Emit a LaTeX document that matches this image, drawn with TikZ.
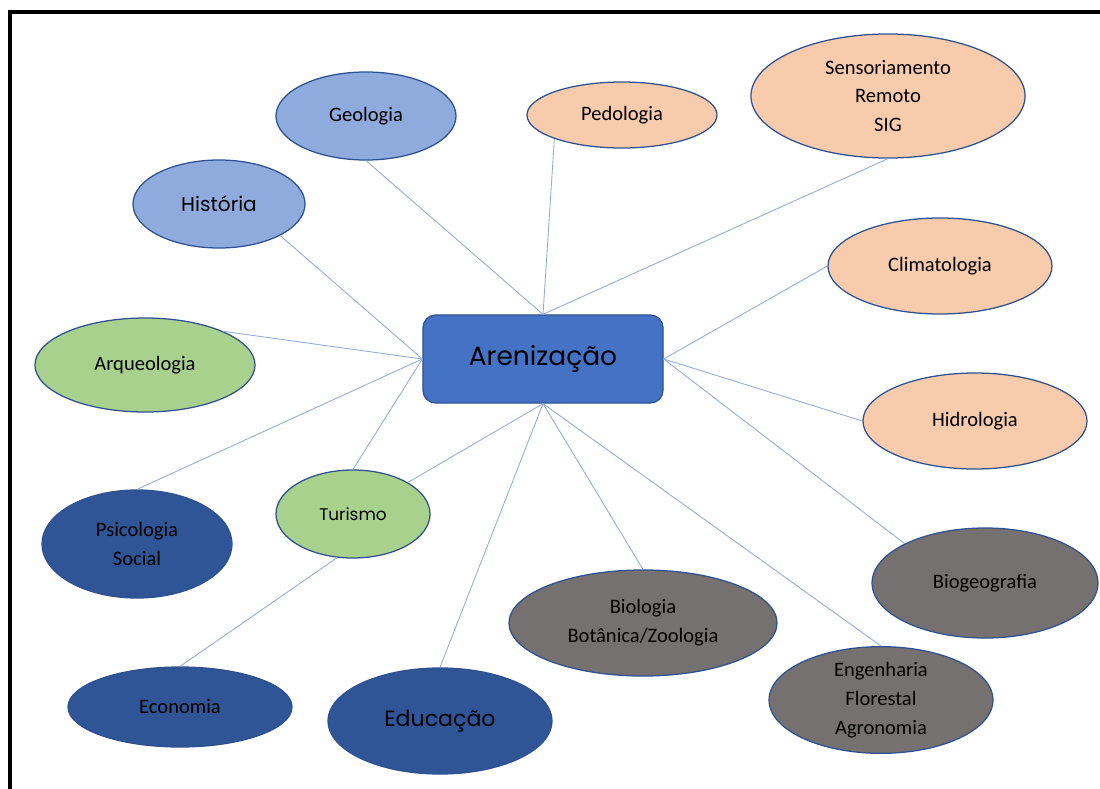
\documentclass[tikz,border=0pt]{standalone}
\usepackage{fontspec}
\setmainfont{Carlito}
\newfontfamily\gothic{Poppins}
\usetikzlibrary{shapes.geometric}

\definecolor{lblue}{HTML}{8FAADC}
\definecolor{peach}{HTML}{F8CBAD}
\definecolor{lgreen}{HTML}{A9D18E}
\definecolor{dblue}{HTML}{2F5597}
\definecolor{dgray}{HTML}{767171}
\definecolor{mblue}{HTML}{4472C4}
\definecolor{edge}{HTML}{2F528F}

\begin{document}
\begin{tikzpicture}[x=0.025cm,y=-0.025cm,
	every node/.style={font=\fontsize{14.6}{20.5}\selectfont, align=center},
	bubble/.style={ellipse, draw=edge, line width=0.9pt, inner sep=0pt},
	link/.style={lblue, line width=0.6pt}]
	\useasboundingbox (0,0) rectangle (1100,789);
	\draw[line width=2.2pt] (1100,12) -- (10,12) -- (10,789);

	\node[draw=edge, fill=mblue, line width=0.9pt, rounded corners=9pt,
		minimum width=6cm, minimum height=2.2cm] (box) at (543,359)
		{\gothic\fontsize{18.8}{22}\selectfont Arenização};

	\node[bubble, fill=lblue, minimum width=4.5cm, minimum height=2.2cm] (geo) at (366,116) {Geologia};
	\node[bubble, fill=lblue, minimum width=4.3cm, minimum height=2.2cm] (hist) at (219,204) {\gothic\fontsize{14.3}{18}\selectfont História};
	\node[bubble, fill=peach, minimum width=4.75cm, minimum height=1.65cm] (ped) at (622,115) {Pedologia};
	\node[bubble, fill=peach, minimum width=6.85cm, minimum height=3.1cm] (sens) at (888,96) {Sensoriamento\\Remoto\\SIG};
	\node[bubble, fill=peach, minimum width=5.6cm, minimum height=2.4cm] (clim) at (940,266) {Climatologia};
	\node[bubble, fill=peach, minimum width=5.6cm, minimum height=2.4cm] (hid) at (975,421) {Hidrologia};
	\node[bubble, fill=lgreen, minimum width=5.5cm, minimum height=2.35cm] (arq) at (145,365) {Arqueologia};
	\node[bubble, fill=lgreen, minimum width=3.85cm, minimum height=2.2cm] (tur) at (353,514) {\gothic\fontsize{12}{15}\selectfont Turismo};
	\node[bubble, fill=dblue, minimum width=4.75cm, minimum height=2.7cm] (psi) at (137,544) {Psicologia\\Social};
	\node[bubble, fill=dblue, minimum width=5.6cm, minimum height=2cm] (eco) at (180,707) {Economia};
	\node[bubble, fill=dblue, minimum width=5.6cm, minimum height=2.65cm] (edu) at (440,721) {\gothic\fontsize{15.7}{19}\selectfont Educação};
	\node[bubble, fill=dgray, minimum width=6.7cm, minimum height=2.65cm] (bio) at (643,623) {Biologia\\Botânica/Zoologia};
	\node[bubble, fill=dgray, minimum width=5.6cm, minimum height=2.6cm] (eng) at (881,700) {Engenharia\\Florestal\\Agronomia};
	\node[bubble, fill=dgray, minimum width=5.65cm, minimum height=2.75cm] (biog) at (985,583) {Biogeografia};

	% ligacoes ao tema central
	\draw[link] (geo.south) -- (box.north);
	\draw[link] (ped.south west) -- (box.north);
	\draw[link] (sens.south) -- (box.north);
	\draw[link] (hist.south east) -- (box.west);
	\draw[link] (arq.north east) -- (box.west);
	\draw[link] (psi.north) -- (box.west);
	\draw[link] (tur.north) -- (box.west);
	\draw[link] (clim.west) -- (box.east);
	\draw[link] (hid.west) -- (box.east);
	\draw[link] (biog.north west) -- (box.east);
	\draw[link] (tur.north east) -- (box.south);
	\draw[link] (edu.north) -- (box.south);
	\draw[link] (bio.north) -- (box.south);
	\draw[link] (eng.north) -- (box.south);
	\draw[link] (eco.north) -- (tur.250);
\end{tikzpicture}
\end{document}
